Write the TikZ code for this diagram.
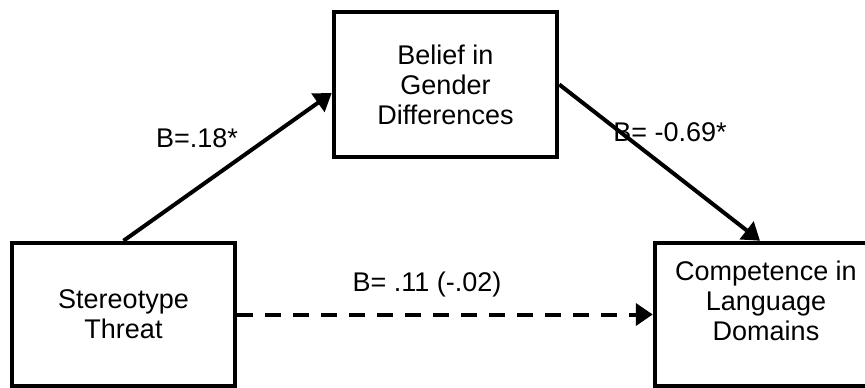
\documentclass[tikz,border=0pt]{standalone}
\usepackage{fontspec}
\setmainfont{Liberation Sans}
\usetikzlibrary{arrows.meta}
\begin{document}
\begin{tikzpicture}[x=1pt,y=-1pt,
  every node/.style={font=\fontsize{27}{30}\selectfont},
  box/.style={draw, line width=4.5pt, rectangle, inner sep=0pt, align=center},
  txt/.style={align=center, inner sep=0pt},
  conn/.style={line width=4pt, -{Triangle[length=17pt,width=22pt]}},
  dashconn/.style={conn, dash pattern=on 16pt off 12pt},
  lbl/.style={anchor=base, inner sep=0pt}]
\useasboundingbox (0,0) rectangle (865,388);
% boxes
\node[box, minimum width=223pt, minimum height=143pt] (st) at (123.5,314.5) {Stereotype\\Threat};
\node[box, minimum width=223pt, minimum height=145pt] (bel) at (445.5,84.5) {Belief in\\Gender\\Differences};
\node[box, minimum width=215pt, minimum height=143pt] (comp) at (762.5,314.5) {};
\node[txt] (comptext) at (766,301) {Competence in\\Language\\Domains};
% labels
\node[lbl] (l1) at (197,147) {B=.18*};
\node[lbl] (l2) at (670,141) {B= -0.69*};
\node[lbl] (l3) at (427,291) {B= .11 (-.02)};
% connectors
\draw[conn] (st.north) -- ([yshift=-8.5pt]bel.west);
\draw[conn] (bel.east) -- ([xshift=-2.5pt]comp.north);
\draw[dashconn] (st.east) -- (comp.west);
\end{tikzpicture}
\end{document}
